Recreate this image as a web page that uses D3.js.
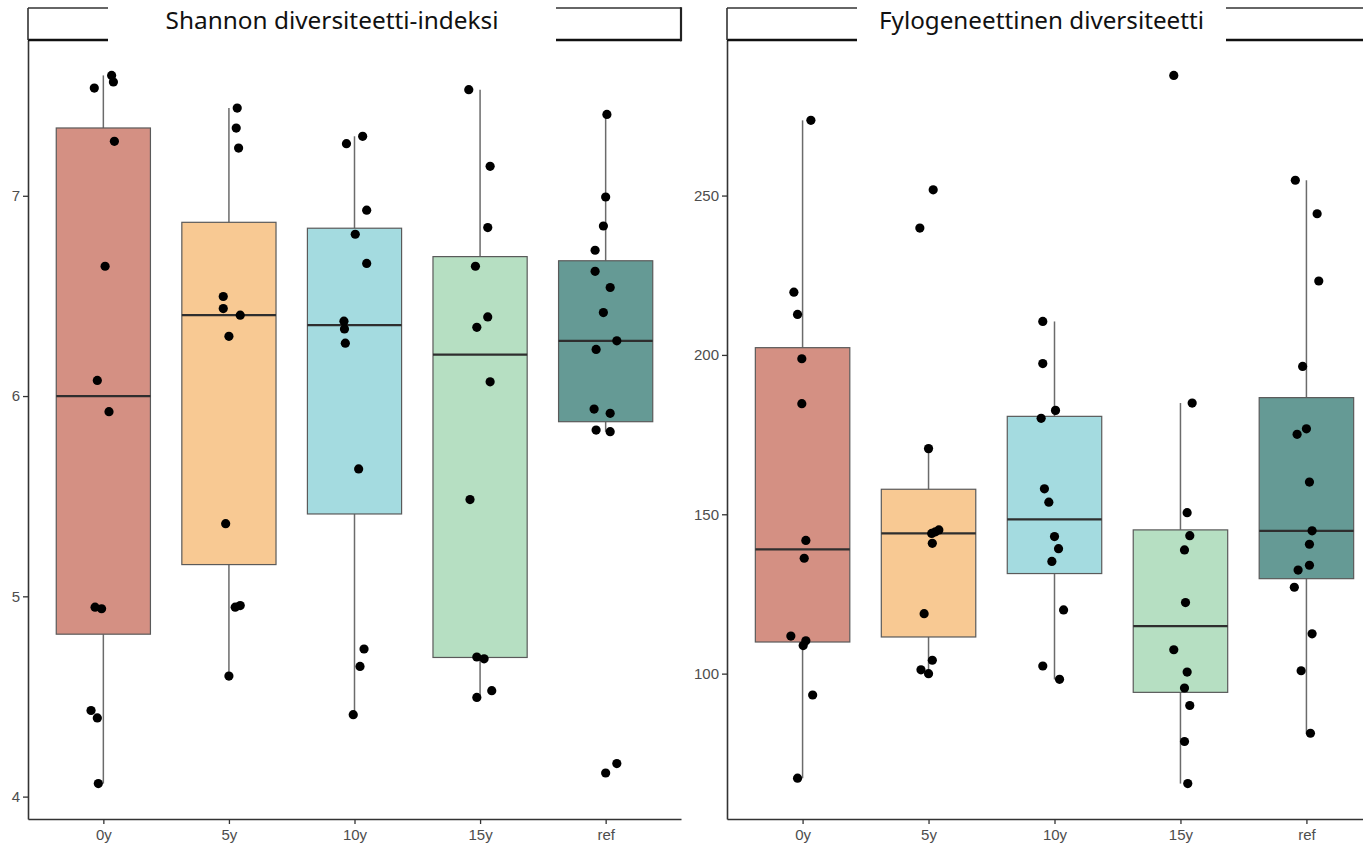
<!DOCTYPE html>
<html>
<head>
<meta charset="utf-8">
<script src="https://cdn.jsdelivr.net/npm/d3@7"></script>
<style>
  html, body { margin: 0; background: #ffffff; }
  svg { display: block; }
</style>
</head>
<body>
<svg id="chart" width="1363" height="847"></svg>
<script>
// Sampling groups (years since treatment, plus reference sites)
const groups = ["0y", "5y", "10y", "15y", "ref"];
const groupColors = ["#D49083", "#F8C993", "#A4DBE0", "#B6DFC2", "#659A95"];

// Shannon diversity index per sample, by group
const shannon0y  = [7.601, 7.568, 7.538, 7.272, 6.648, 6.078, 5.922, 4.946, 4.938, 4.430, 4.393, 4.065];
const shannon5y  = [7.438, 7.338, 7.238, 6.497, 6.437, 6.404, 6.298, 5.363, 4.954, 4.946, 4.602];
const shannon10y = [7.297, 7.260, 6.928, 6.808, 6.662, 6.374, 6.335, 6.264, 5.636, 4.737, 4.650, 4.409];
const shannon15y = [7.530, 7.147, 6.841, 6.648, 6.395, 6.343, 6.071, 5.483, 4.697, 4.688, 4.529, 4.495];
const shannonRef = [7.406, 6.994, 6.849, 6.728, 6.623, 6.542, 6.417, 6.276, 6.233, 5.935, 5.914, 5.830, 5.822, 4.165, 4.118];

// Phylogenetic diversity per sample, by group
const phylo0y  = [273.6, 219.7, 212.7, 198.8, 184.7, 141.8, 136.2, 111.8, 110.3, 108.8, 93.3, 67.2];
const phylo5y  = [251.8, 239.8, 170.6, 145.1, 144.5, 144.0, 140.9, 118.8, 104.2, 101.2, 100.0];
const phylo10y = [210.5, 197.3, 182.6, 180.1, 158.0, 153.8, 143.0, 139.2, 135.2, 120.0, 102.4, 98.2];
const phylo15y = [287.7, 184.9, 150.5, 143.3, 138.8, 122.3, 107.5, 100.5, 95.5, 90.0, 78.7, 65.5];
const phyloRef = [254.8, 244.3, 223.2, 196.4, 176.8, 175.1, 160.1, 144.8, 140.6, 134.0, 132.5, 127.1, 112.5, 100.9, 81.3];

// Horizontal jitter of each point, in category units
const shannonJitter0y  = [0.066, 0.080, -0.072, 0.088, 0.014, -0.048, 0.045, -0.066, -0.014, -0.098, -0.048, -0.040];
const shannonJitter5y  = [0.066, 0.058, 0.077, -0.045, -0.045, 0.090, 0.000, -0.026, 0.090, 0.050, 0.000];
const shannonJitter10y = [0.065, -0.064, 0.097, 0.006, 0.097, -0.084, -0.080, -0.073, 0.033, 0.076, 0.044, -0.010];
const shannonJitter15y = [-0.090, 0.080, 0.061, -0.037, 0.061, -0.026, 0.080, -0.080, -0.026, 0.032, 0.093, -0.026];
const shannonJitterRef = [0.010, 0.000, -0.018, -0.084, -0.084, 0.036, -0.018, 0.089, -0.076, -0.092, 0.036, -0.076, 0.036, 0.089, 0.000];

const phyloJitter0y  = [0.066, -0.069, -0.040, -0.006, -0.006, 0.026, 0.013, -0.093, 0.026, 0.005, 0.080, -0.040];
const phyloJitter5y  = [0.037, -0.069, 0.000, 0.082, 0.055, 0.025, 0.030, -0.035, 0.030, -0.060, 0.000];
const phyloJitter10y = [-0.093, -0.093, 0.008, -0.106, -0.080, -0.045, 0.000, 0.032, -0.021, 0.072, -0.093, 0.040];
const phyloJitter15y = [-0.053, 0.093, 0.053, 0.074, 0.032, 0.040, -0.053, 0.053, 0.032, 0.074, 0.032, 0.058];
const phyloJitterRef = [-0.088, 0.085, 0.098, -0.030, 0.000, -0.074, 0.024, 0.045, 0.024, 0.024, -0.066, -0.096, 0.045, -0.042, 0.032];

// Axis tick values
const shannonTicks = [4, 5, 6, 7];
const phyloTicks = [100, 150, 200, 250];

// Panel titles
const shannonTitle = "Shannon diversiteetti-indeksi";
const phyloTitle = "Fylogeneettinen diversiteetti";

// ---- layout ----
const stripTop = 8, panelTop = 40, panelBottom = 819;

const panels = [
  {
    title: shannonTitle,
    values: [shannon0y, shannon5y, shannon10y, shannon15y, shannonRef],
    jitter: [shannonJitter0y, shannonJitter5y, shannonJitter10y, shannonJitter15y, shannonJitterRef],
    ticks: shannonTicks,
    x0: 28, x1: 681, stripRight: 681,
    titleBox: [108, 556], titleWidth: 333
  },
  {
    title: phyloTitle,
    values: [phylo0y, phylo5y, phylo10y, phylo15y, phyloRef],
    jitter: [phyloJitter0y, phyloJitter5y, phyloJitter10y, phyloJitter15y, phyloJitterRef],
    ticks: phyloTicks,
    x0: 727, x1: 1382, stripRight: 1382,
    titleBox: [857, 1226], titleWidth: 325
  }
];

const svg = d3.select("#chart");
svg.append("rect").attr("width", 1363).attr("height", 847).attr("fill", "#ffffff");

function boxStats(vals) {
  const s = vals.slice().sort(d3.ascending);
  const q1 = d3.quantileSorted(s, 0.25);
  const med = d3.quantileSorted(s, 0.5);
  const q3 = d3.quantileSorted(s, 0.75);
  const iqr = q3 - q1;
  const lo = d3.min(s.filter(v => v >= q1 - 1.5 * iqr));
  const hi = d3.max(s.filter(v => v <= q3 + 1.5 * iqr));
  return { q1, med, q3, lo, hi };
}

panels.forEach(p => {
  const g = svg.append("g");

  const x = d3.scalePoint().domain(groups).range([p.x0, p.x1]).padding(0.6);
  const step = x.step();
  const all = p.values.flat();
  const ext = d3.extent(all);
  const pad = (ext[1] - ext[0]) * 0.05;
  const y = d3.scaleLinear().domain([ext[0] - pad, ext[1] + pad]).range([panelBottom, panelTop]);

  const boxW = step * 0.75;

  // boxes with whiskers
  groups.forEach((grp, i) => {
    const st = boxStats(p.values[i]);
    const cx = x(grp);
    const bg = g.append("g");
    bg.append("line")
      .attr("x1", cx).attr("x2", cx).attr("y1", y(st.hi)).attr("y2", y(st.q3))
      .attr("stroke", "#6b6b6b").attr("stroke-width", 1.5);
    bg.append("line")
      .attr("x1", cx).attr("x2", cx).attr("y1", y(st.q1)).attr("y2", y(st.lo))
      .attr("stroke", "#6b6b6b").attr("stroke-width", 1.5);
    bg.append("rect")
      .attr("x", cx - boxW / 2).attr("width", boxW)
      .attr("y", y(st.q3)).attr("height", y(st.q1) - y(st.q3))
      .attr("fill", groupColors[i])
      .attr("stroke", "#5a5a5a").attr("stroke-width", 1.2);
    bg.append("line")
      .attr("x1", cx - boxW / 2).attr("x2", cx + boxW / 2)
      .attr("y1", y(st.med)).attr("y2", y(st.med))
      .attr("stroke", "#2e2e2e").attr("stroke-width", 2.2);
  });

  // jittered sample points
  groups.forEach((grp, i) => {
    g.append("g").selectAll("circle")
      .data(p.values[i].map((v, k) => ({ v, j: p.jitter[i][k] })))
      .join("circle")
      .attr("cx", d => x(grp) + d.j * step)
      .attr("cy", d => y(d.v))
      .attr("r", 4.6)
      .attr("fill", "#000000");
  });

  // y axis
  const ya = g.append("g")
    .attr("transform", `translate(${p.x0},0)`)
    .call(d3.axisLeft(y).tickValues(p.ticks).tickFormat(d3.format("d"))
      .tickSize(5).tickSizeOuter(0).tickPadding(3));
  // x axis
  const xa = g.append("g")
    .attr("transform", `translate(0,${panelBottom})`)
    .call(d3.axisBottom(x).tickSize(5).tickSizeOuter(0).tickPadding(5));

  [ya, xa].forEach(a => {
    a.select(".domain").attr("stroke", "#333333").attr("stroke-width", 1.6);
    a.selectAll(".tick line").attr("stroke", "#333333").attr("stroke-width", 1.3);
    a.selectAll(".tick text")
      .attr("fill", "#4d4d4d")
      .style("font-family", "'Liberation Sans', Arial, sans-serif")
      .style("font-size", "15px");
  });

  // strip above the panel
  const sg = g.append("g");
  sg.append("line").attr("x1", p.x0).attr("x2", p.stripRight).attr("y1", stripTop).attr("y2", stripTop)
    .attr("stroke", "#333333").attr("stroke-width", 1.6);
  sg.append("line").attr("x1", p.x0).attr("x2", p.stripRight).attr("y1", panelTop).attr("y2", panelTop)
    .attr("stroke", "#111111").attr("stroke-width", 2.6);
  sg.append("line").attr("x1", p.x0).attr("x2", p.x0).attr("y1", stripTop).attr("y2", panelTop)
    .attr("stroke", "#333333").attr("stroke-width", 1.6);
  sg.append("line").attr("x1", p.stripRight).attr("x2", p.stripRight).attr("y1", stripTop - 0.8).attr("y2", panelTop + 1.3)
    .attr("stroke", "#222222").attr("stroke-width", 2.2);

  // title label on a white plate over the strip
  sg.append("rect")
    .attr("x", p.titleBox[0]).attr("y", 0)
    .attr("width", p.titleBox[1] - p.titleBox[0]).attr("height", 46)
    .attr("fill", "#ffffff");
  const t = sg.append("text")
    .attr("x", (p.titleBox[0] + p.titleBox[1]) / 2)
    .attr("y", 28.5)
    .attr("text-anchor", "middle")
    .attr("fill", "#111111")
    .style("font-family", "'Noto Sans', 'Open Sans', sans-serif")
    .style("font-size", "23px")
    .text(p.title);
  t.attr("textLength", p.titleWidth).attr("lengthAdjust", "spacingAndGlyphs");
});
</script>
</body>
</html>
